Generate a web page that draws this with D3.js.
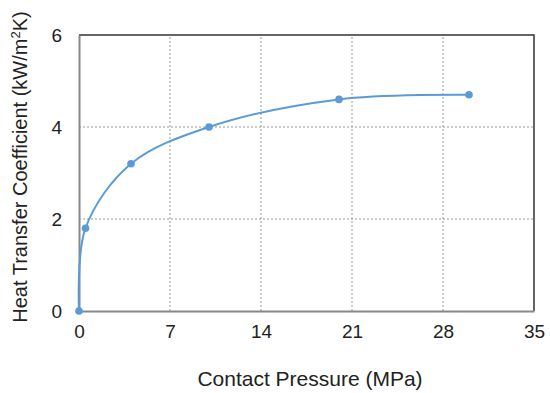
<!DOCTYPE html>
<html>
<head>
<meta charset="utf-8">
<script src="https://cdn.jsdelivr.net/npm/d3@7"></script>
<style>
  body { margin: 0; background: #fff; }
  text { font-family: "Liberation Sans", Arial, sans-serif; fill: #222; }
</style>
</head>
<body>
<div id="chart"></div>
<script>
// data
const pressure = [0, 0.5, 4, 10, 20, 30];
const htc = [0, 1.8, 3.2, 4.0, 4.6, 4.7];
const xTicks = [0, 7, 14, 21, 28, 35];
const yTicks = [0, 2, 4, 6];

const width = 550;
const height = 393;
const margin = { top: 35, right: 16, bottom: 82, left: 79 };

const svg = d3.select("#chart")
  .append("svg")
  .attr("width", width)
  .attr("height", height);

const x = d3.scaleLinear().domain([0, 35]).range([margin.left, width - margin.right]);
const y = d3.scaleLinear().domain([0, 6]).range([height - margin.bottom, margin.top]);

// grid lines
svg.append("g")
  .selectAll("line")
  .data(xTicks.slice(1, -1))
  .join("line")
  .attr("x1", d => x(d)).attr("x2", d => x(d))
  .attr("y1", y(0)).attr("y2", y(6))
  .attr("stroke", "#999")
  .attr("stroke-dasharray", "2,2");

svg.append("g")
  .selectAll("line")
  .data(yTicks.slice(1, -1))
  .join("line")
  .attr("x1", x(0)).attr("x2", x(35))
  .attr("y1", d => y(d)).attr("y2", d => y(d))
  .attr("stroke", "#999")
  .attr("stroke-dasharray", "2,2");

// top and right frame
svg.append("path")
  .attr("d", `M${x(0)},${y(6)}H${x(35)}V${y(0)}`)
  .attr("fill", "none")
  .attr("stroke", "#333")
  .attr("stroke-width", 1.5);

// axes
const xAxis = svg.append("g")
  .attr("transform", `translate(0,${y(0)})`)
  .call(d3.axisBottom(x).tickValues(xTicks).tickFormat(d3.format("d")).tickSize(0).tickPadding(14));
const yAxis = svg.append("g")
  .attr("transform", `translate(${x(0)},0)`)
  .call(d3.axisLeft(y).tickValues(yTicks).tickFormat(d3.format("d")).tickSize(0).tickPadding(17));

[xAxis, yAxis].forEach(a => {
  a.attr("font-size", null).attr("font-family", null);
  a.select(".domain").attr("stroke", "#888").attr("stroke-width", 2);
  a.selectAll("text").style("font-size", "19px").attr("fill", "#222");
});

// axis titles
svg.append("text")
  .attr("x", 310)
  .attr("y", 386)
  .attr("text-anchor", "middle")
  .style("font-size", "21px")
  .text("Contact Pressure (MPa)");

const yLabel = svg.append("text")
  .attr("transform", `translate(27,167) rotate(-90)`)
  .attr("text-anchor", "middle")
  .style("font-size", "20px");
yLabel.append("tspan").text("Heat Transfer Coefficient (kW/m");
yLabel.append("tspan").attr("dy", -7).style("font-size", "13px").text("2");
yLabel.append("tspan").attr("dy", 7).text("K)");

// smoothed series
const pts = pressure.map((p, i) => [p, htc[i]]);
const line = d3.line()
  .x(d => x(d[0]))
  .y(d => y(d[1]))
  .curve(d3.curveCatmullRom.alpha(0.5));

svg.append("path")
  .datum(pts)
  .attr("d", line)
  .attr("fill", "none")
  .attr("stroke", "#5b9bd5")
  .attr("stroke-width", 2);

svg.append("g")
  .selectAll("circle")
  .data(pts)
  .join("circle")
  .attr("cx", d => x(d[0]))
  .attr("cy", d => y(d[1]))
  .attr("r", 3.8)
  .attr("fill", "#5b9bd5");
</script>
</body>
</html>
